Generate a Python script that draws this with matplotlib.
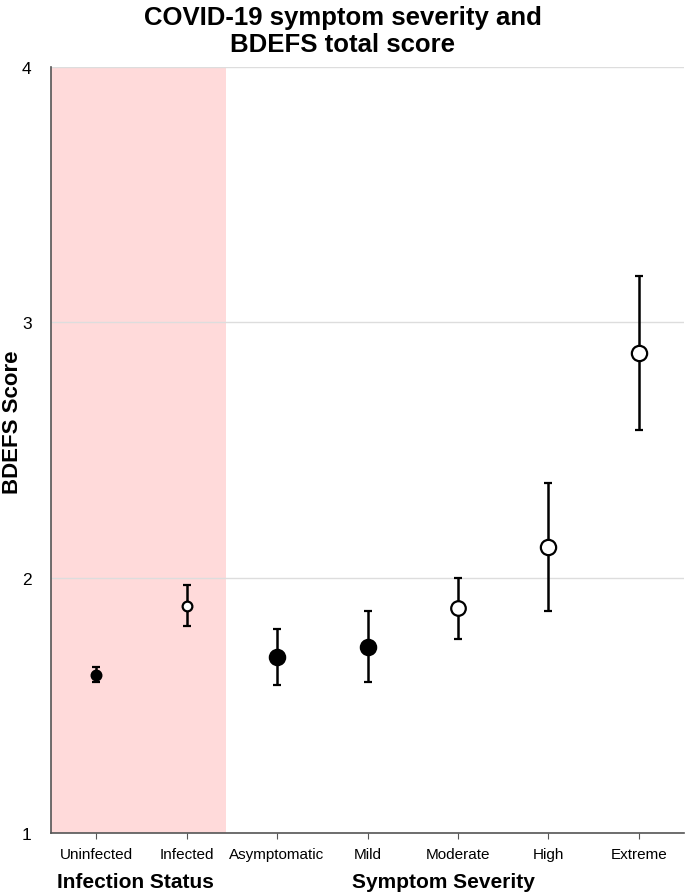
import numpy as np
import matplotlib.pyplot as plt

plt.rcParams['font.family'] = ['Liberation Sans', 'DejaVu Sans']

# data
categories = ['Uninfected', 'Infected', 'Asymptomatic', 'Mild', 'Moderate', 'High', 'Extreme']
means = [1.62, 1.89, 1.69, 1.73, 1.88, 2.12, 2.88]
errors = [0.03, 0.08, 0.11, 0.14, 0.12, 0.25, 0.30]
filled = [True, False, True, True, False, False, False]
msizes = [7, 7, 11, 11, 10.5, 11, 11]

fig = plt.figure(figsize=(6.85, 8.95), dpi=100)
ax = fig.add_axes([51 / 685, 61 / 895, 633 / 685, 766 / 895])

x = np.arange(len(categories))
ax.axvspan(-0.5, 1.43, color='#ffdada', zorder=0, lw=0)

for i in range(len(categories)):
    ax.errorbar(x[i], means[i], yerr=errors[i], fmt='o', ms=msizes[i],
                mfc='black' if filled[i] else 'white', mec='black', mew=1.6,
                ecolor='black', elinewidth=1.8, capsize=3, capthick=1.8, zorder=3)

ax.set_xlim(-0.5, 6.5)
ax.set_ylim(1, 4)
ax.set_yticks([1, 2, 3, 4])
ax.set_xticks(x)
ax.set_xticklabels(categories, fontsize=11)
ax.tick_params(axis='y', length=0, labelsize=12.5, pad=14)
ax.tick_params(axis='x', length=4, color='#555555', pad=6)
ax.grid(axis='y', color='#dddddd', lw=1)
ax.set_axisbelow(True)
for s in ['top', 'right']:
    ax.spines[s].set_visible(False)
for s in ['left', 'bottom']:
    ax.spines[s].set_color('#555555')
    ax.spines[s].set_linewidth(1.2)

fig.text(13 / 685, 1 - 422 / 895, 'BDEFS Score', rotation=90, ha='center', va='center',
         fontsize=16, fontweight='bold')
fig.text(0.5, 0.965, 'COVID-19 symptom severity and\nBDEFS total score', ha='center', va='center',
         fontsize=18.5, fontweight='bold', linespacing=1.15)
fig.text(135 / 685, 12 / 895, 'Infection Status', ha='center', va='center', fontsize=15, fontweight='bold')
fig.text(443 / 685, 12 / 895, 'Symptom Severity', ha='center', va='center', fontsize=15, fontweight='bold')

fig.savefig('out.png', dpi=100)
